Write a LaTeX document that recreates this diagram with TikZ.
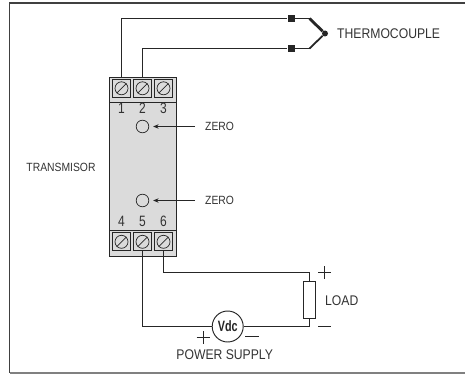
\documentclass[tikz,border=0pt]{standalone}
\usepackage{fontspec}
\usetikzlibrary{arrows.meta}
\setmainfont{Liberation Sans}
\newfontfamily\labfont[FakeStretch=0.87]{Liberation Sans}
\newfontfamily\numfont[FakeStretch=0.8]{Liberation Sans}
\newfontfamily\vdcfont[FakeStretch=0.72]{Liberation Sans Bold}
\colorlet{colorLine}{black!85}
\colorlet{colorText}{black!80}
\colorlet{colorBody}{black!14}
\tikzset{
   every path/.style={>={Stealth[length=5.5pt,width=4.5pt]}},
   wire/.style={color=colorLine,line width=0.95pt},
   pointer/.style={->,color=colorLine,line width=0.8pt,shorten >=4pt},
   body/.style={draw=colorLine,fill=colorBody,line width=0.9pt,inner sep=0pt,anchor=north west},
   screwbox/.style={draw=colorLine,line width=1pt,inner sep=0pt,minimum size=18pt},
   screw/.style={circle,draw=colorLine,line width=0.7pt,inner sep=0pt,minimum size=13pt},
   adjust/.style={circle,draw=colorLine,line width=0.7pt,inner sep=0pt,minimum size=12.6pt},
   lab/.style={color=colorText,inner sep=0pt,font=\labfont\fontsize{14}{16}\selectfont},
   smalllab/.style={color=colorText,inner sep=0pt,font=\labfont\fontsize{11.9}{13}\selectfont},
   numlab/.style={color=colorText,inner sep=0pt,font=\numfont\fontsize{15}{17}\selectfont},
   blob/.style={rectangle,fill=colorLine,inner sep=0pt,minimum size=7pt},
   sign/.style={color=colorLine,line width=0.8pt},
   frameline/.style={color=black!75,line width=1.1pt},
}
\begin{document}
\begin{tikzpicture}[x=1pt,y=-1pt]
      \useasboundingbox (0,0) rectangle (465,374);
      % frame
      \coordinate (FTR) at (465,3);
      \coordinate (FTL) at (9.5,3);
      \coordinate (FBL) at (9.5,372.8);
      \coordinate (FBR) at (465,372.8);
      \draw[frameline] (FTR) -- (FTL) -- (FBL);
      \draw[color=black!50,line width=2.4pt] (FBL) -- (FBR);

      % transmitter body
      \node[body,minimum width=67pt,minimum height=179pt] (Body) at (109,77) {};
      \node[body,minimum width=67pt,minimum height=25.5pt] (StripT) at (109,77) {};
      \node[body,minimum width=67pt,minimum height=26pt] (StripB) at (109,230) {};

      \node[screwbox] (T1) at (121.5,88.3) {};
      \node[screwbox] (T2) at (142.5,88.3) {};
      \node[screwbox] (T3) at (163.5,88.3) {};
      \node[screwbox] (T4) at (121.5,241.8) {};
      \node[screwbox] (T5) at (142.5,241.8) {};
      \node[screwbox] (T6) at (163.5,241.8) {};
      \foreach \t in {T1,T2,T3,T4,T5,T6} {
        \node[screw] (\t s) at (\t) {};
        \draw[color=colorLine,line width=0.7pt] (\t s.225) -- (\t s.45);
      }
      \node[numlab] (N1) at (121.5,108.5) {1};
      \node[numlab] (N2) at (142.5,108.5) {2};
      \node[numlab] (N3) at (163.5,108.5) {3};
      \node[numlab] (N4) at (121.5,221.5) {4};
      \node[numlab] (N5) at (142.5,221.5) {5};
      \node[numlab] (N6) at (163.5,221.5) {6};
      \node[smalllab] (Transmisor) at (61,167) {TRANSMISOR};

      % zero adjust
      \node[adjust] (Z1) at (142.5,126.5) {};
      \node[adjust] (Z2) at (142.5,200.5) {};
      \node[smalllab,anchor=west] (Z1l) at (205,126.5) {ZERO};
      \node[smalllab,anchor=west] (Z2l) at (205,200.5) {ZERO};
      \coordinate (Z1e) at (195,126.5);
      \coordinate (Z2e) at (195,200.5);
      \draw[pointer] (Z1e) -- (Z1);
      \draw[pointer] (Z2e) -- (Z2);

      % thermocouple
      \node[blob] (S1) at (291,18.5) {};
      \node[blob] (S2) at (291,48.5) {};
      \coordinate (K1) at (309.5,18.5);
      \coordinate (K2) at (309.5,48.5);
      \node[circle,fill=colorLine,inner sep=0pt,minimum size=6pt] (Tip) at (325,33.5) {};
      \draw[wire] (T1 |- StripT.north) |- (S1) -- (K1);
      \draw[wire] (T2 |- StripT.north) |- (S2) -- (K2);
      \draw[color=colorLine,line width=2.8pt] (K1) -- (Tip);
      \draw[color=colorLine,line width=1.8pt] (K2) -- (Tip);
      \node[lab,anchor=west] (Thermo) at (337,34) {THERMOCOUPLE};

      % load and supply
      \node[draw=colorLine,wire,fill=white,inner sep=0pt,minimum width=12pt,minimum height=36.6pt] (Load) at (309.5,300) {};
      \node[circle,draw=colorLine,wire,inner sep=0pt,minimum size=31pt,font=\vdcfont\fontsize{15}{16}\selectfont,text=colorLine] (Vdc) at (227.7,326.5) {Vdc};
      \coordinate (C1) at (309.5,272.5);
      \coordinate (C2) at (309.5,326.5);
      \draw[wire] (T6.south) |- (C1) -- (Load.north);
      \draw[wire] (T5.south) |- (Vdc.west);
      \draw[wire] (Vdc.east) -- (C2) -- (Load.south);
      \node[lab,anchor=west] (LoadL) at (325,300.7) {LOAD};
      \node[lab] (Supply) at (224.7,355) {POWER SUPPLY};

      % polarity signs
      \coordinate (PL) at (324.7,272.5);
      \draw[sign] (PL) ++(-6.5,0) -- ++(13,0) (PL) ++(0,-6.5) -- ++(0,13);
      \coordinate (ML) at (324.7,326.5);
      \draw[sign] (ML) ++(-6.5,0) -- ++(13,0);
      \coordinate (PS) at (203,337.5);
      \draw[sign] (PS) ++(-6.5,0) -- ++(13,0) (PS) ++(0,-6.5) -- ++(0,13);
      \coordinate (MS) at (251.8,336.5);
      \draw[sign] (MS) ++(-6.8,0) -- ++(13.6,0);
\end{tikzpicture}
\end{document}
